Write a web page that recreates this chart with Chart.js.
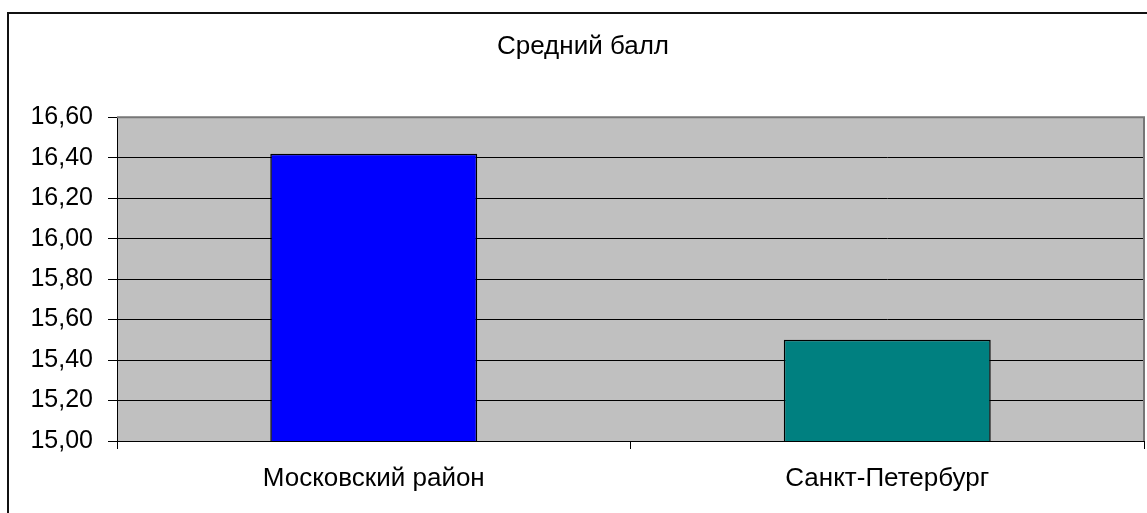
<!DOCTYPE html>
<html>
<head>
<meta charset="utf-8">
<script src="https://cdn.jsdelivr.net/npm/chart.js@4"></script>
<style>
  body { margin: 0; background: #fff; overflow: hidden; }
  #wrap { position: relative; width: 1147px; height: 513px; }
  #rama { position: absolute; left: 7px; top: 12px; width: 1200px; height: 600px; border: 2px solid #111; }
  #grafico { position: absolute; left: 0; top: 0; }
</style>
</head>
<body>
<div id="wrap">
  <div id="rama"></div>
  <canvas id="grafico" width="1147" height="513"></canvas>
</div>
<script>
// Datos
const categorias = ['Московский район', 'Санкт-Петербург']
const valores = [16.42, 15.50]
const colores = ['#0000FF', '#008080']
const titulo = 'Средний балл'

const fuente = { family: 'Arial, "Liberation Sans", sans-serif', size: 25 }
const fuenteGrande = { family: 'Arial, "Liberation Sans", sans-serif', size: 26 }

// fondo gris del área del gráfico
const fondoPlot = {
  id: 'fondoPlot',
  beforeDraw(chart) {
    const { ctx, chartArea: a } = chart
    ctx.save()
    ctx.fillStyle = '#C0C0C0'
    ctx.fillRect(a.left, a.top, a.right - a.left, a.bottom - a.top)
    ctx.restore()
  },
  afterDraw(chart) {
    const { ctx, chartArea: a } = chart
    ctx.save()
    ctx.strokeStyle = '#777'
    ctx.lineWidth = 2
    ctx.beginPath()
    ctx.moveTo(a.left, a.top)
    ctx.lineTo(a.right, a.top)
    ctx.lineTo(a.right, a.bottom)
    ctx.stroke()
    ctx.restore()
  }
}

const ctx = document.getElementById('grafico').getContext('2d')
const chart = new Chart(ctx, {
  type: 'bar',
  data: {
    labels: categorias,
    datasets: [{
      data: valores,
      backgroundColor: colores,
      borderColor: '#000',
      borderWidth: 1.5,
      borderSkipped: false,
      barPercentage: 0.403,
      categoryPercentage: 1
    }]
  },
  options: {
    responsive: false,
    animation: false,
    layout: { padding: { left: 22, right: 3, top: 0, bottom: 0 } },
    plugins: {
      legend: { display: false },
      tooltip: { enabled: false },
      title: {
        display: true,
        text: titulo,
        color: '#000',
        font: { ...fuenteGrande, weight: 'normal' },
        padding: { top: 31, bottom: 55 }
      }
    },
    scales: {
      x: {
        offset: true,
        grid: { offset: true, drawOnChartArea: false, color: '#000', tickLength: 8 },
        border: { color: '#000', width: 1 },
        ticks: { color: '#000', font: fuenteGrande, padding: 14, maxRotation: 0 },
        afterFit(scale) { scale.height = 72 }
      },
      y: {
        min: 15,
        max: 16.6,
        grid: { color: '#000', lineWidth: 1, tickLength: 9 },
        border: { color: '#000', width: 1 },
        ticks: {
          stepSize: 0.2,
          color: '#000',
          font: fuente,
          padding: 15,
          callback: v => Number(v).toFixed(2).replace('.', ',')
        },
        afterFit(scale) { scale.width = 95 }
      }
    }
  },
  plugins: [fondoPlot]
})
</script>
</body>
</html>
